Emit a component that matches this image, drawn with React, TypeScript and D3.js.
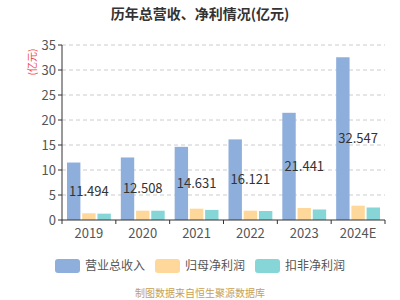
import React from 'react';
import * as d3 from 'd3';

const years = ['2019', '2020', '2021', '2022', '2023', '2024E'];
const revenue = [11.494, 12.508, 14.631, 16.121, 21.441, 32.547];
const netProfit = [1.34, 1.86, 2.26, 1.86, 2.4, 2.86];
const deductedProfit = [1.27, 1.86, 2.02, 1.8, 2.1, 2.5];
const yTicks = [0, 5, 10, 15, 20, 25, 30, 35];
const seriesNames = ['营业总收入', '归母净利润', '扣非净利润'];
const colors = ['#8eaedc', '#fdd89a', '#86d6d8'];

const W = 400;
const H = 300;
const margin = { top: 45, right: 15, bottom: 80, left: 62 };
const font = '"Noto Sans CJK SC", "Noto Sans", sans-serif';

const App = () => {
  const x = d3.scaleBand().domain(years).range([margin.left, W - margin.right]).paddingInner(0).paddingOuter(0);
  const x1 = d3.scaleBand().domain(seriesNames).range([5, x.bandwidth() - 5]).paddingInner(0.12);
  const y = d3.scaleLinear().domain([0, 35]).range([H - margin.bottom, margin.top]);
  const series = [revenue, netProfit, deductedProfit];

  return (
    <svg width={W} height={H} style={{ display: 'block', position: 'absolute', left: 0, top: 0 }} fontFamily={font}>
      <text x={200} y={19} textAnchor="middle" fontSize={14} fontWeight="bold" fill="#333">
        历年总营收、净利情况(亿元)
      </text>
      <text transform="translate(36,62) rotate(-90)" textAnchor="middle" fontSize={10} fill="#f04848">
        (亿元)
      </text>
      {yTicks.map(t => (
        <g key={t}>
          {t > 0 && (
            <line x1={margin.left} x2={W - margin.right} y1={y(t)} y2={y(t)} stroke="#ccc" strokeDasharray="4,3" />
          )}
          <line x1={margin.left - 4} x2={margin.left} y1={y(t)} y2={y(t)} stroke="#333" />
          <text x={margin.left - 6} y={y(t)} dy="0.35em" textAnchor="end" fontSize={13} fill="#555">
            {t}
          </text>
        </g>
      ))}
      {years.map((yr, i) => (
        <g key={yr} transform={`translate(${x(yr)},0)`}>
          {series.map((s, j) => (
            <rect
              key={j}
              x={x1(seriesNames[j])}
              y={y(s[i])}
              width={x1.bandwidth()}
              height={y(0) - y(s[i])}
              fill={colors[j]}
            />
          ))}
        </g>
      ))}
      <line x1={margin.left} x2={margin.left} y1={margin.top} y2={y(0)} stroke="#333" />
      <line x1={margin.left} x2={W - margin.right} y1={y(0)} y2={y(0)} stroke="#333" />
      {years.map(yr => (
        <line key={yr} x1={x(yr)! + x.bandwidth()} x2={x(yr)! + x.bandwidth()} y1={y(0)} y2={y(0) + 4} stroke="#333" />
      ))}
      <line x1={margin.left} x2={margin.left} y1={y(0)} y2={y(0) + 4} stroke="#333" />
      {years.map(yr => (
        <text key={yr} x={x(yr)! + x.bandwidth() / 2} y={y(0) + 18} textAnchor="middle" fontSize={13} fill="#555">
          {yr}
        </text>
      ))}
      {years.map((yr, i) => (
        <text key={yr} x={x(yr)! + x.bandwidth() / 2} y={y(revenue[i] / 2)} dy="0.35em" textAnchor="middle" fontSize={13} fill="#333">
          {revenue[i].toFixed(3)}
        </text>
      ))}
      {seriesNames.map((name, j) => {
        const lx = [55, 155, 255][j];
        return (
          <g key={name} transform={`translate(${lx},259)`}>
            <rect x={0} y={0} width={25} height={14} rx={3} fill={colors[j]} />
            <text x={30} y={7} dy="0.35em" fontSize={12} fill="#555">
              {name}
            </text>
          </g>
        );
      })}
      <text x={200} y={297} textAnchor="middle" fontSize={10} fill="#c9a050">
        制图数据来自恒生聚源数据库
      </text>
    </svg>
  );
};

export default App;
